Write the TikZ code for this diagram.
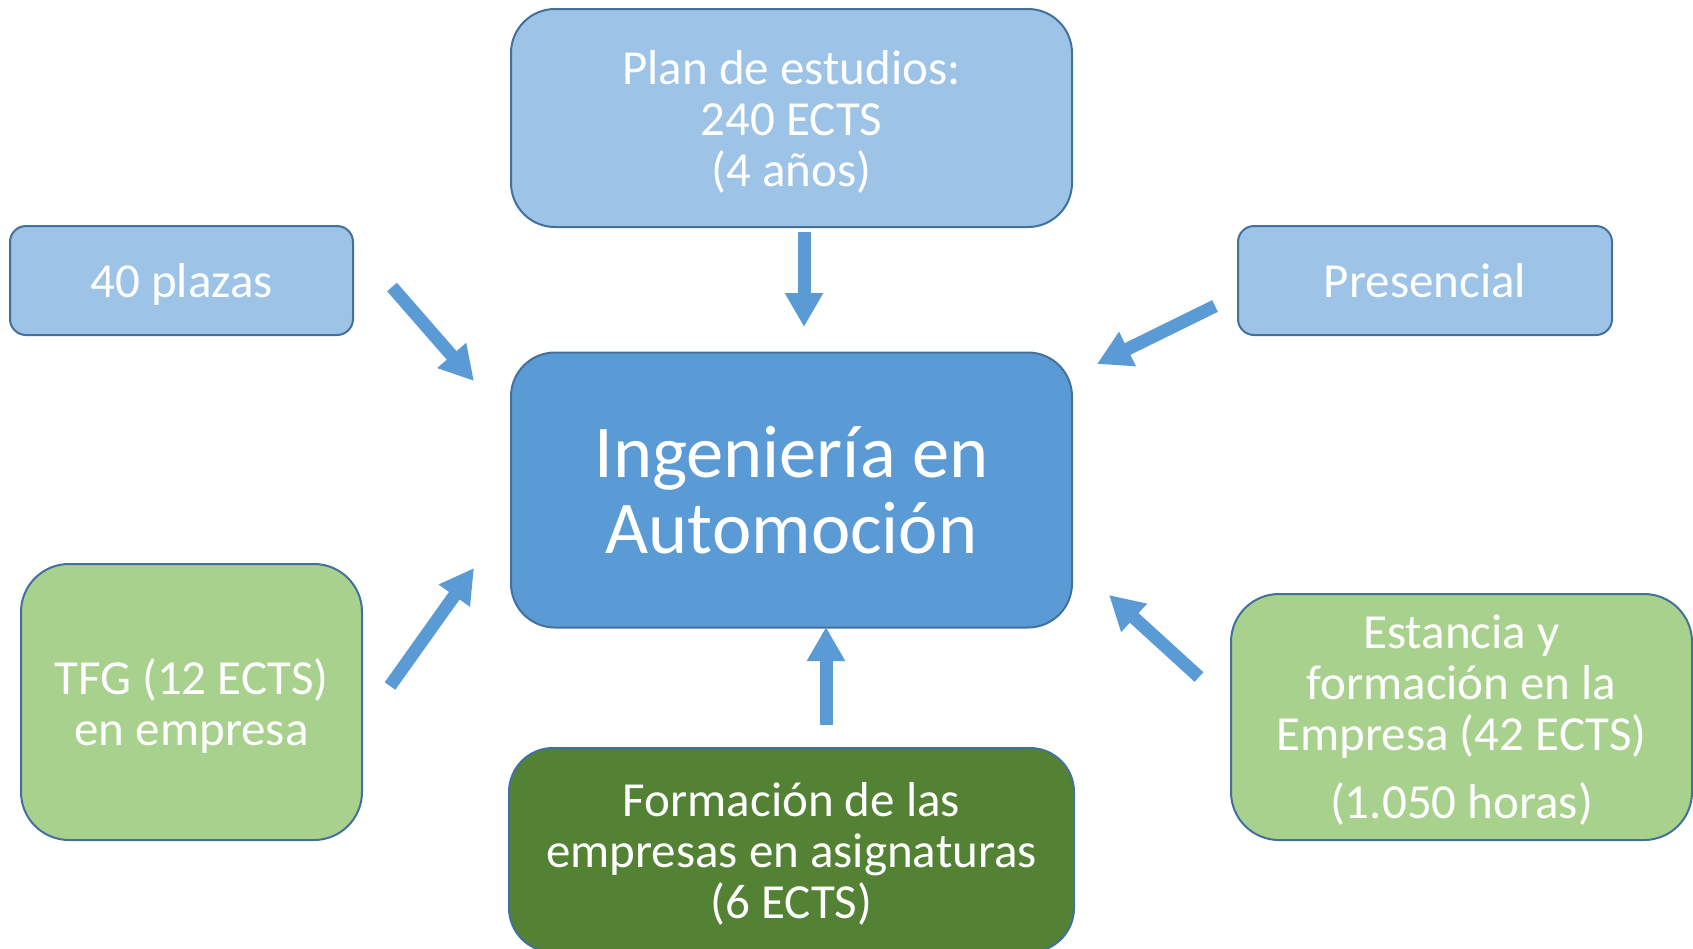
\documentclass[tikz,border=0pt]{standalone}
\usepackage{fontspec}
\setmainfont{Carlito}
\usetikzlibrary{arrows.meta}
\definecolor{lblue}{HTML}{9DC3E6}
\definecolor{mblue}{HTML}{5B9BD5}
\definecolor{bord}{HTML}{41719C}
\definecolor{lgreen}{HTML}{A9D18E}
\definecolor{dgreen}{HTML}{548235}
\tikzset{
  box/.style={draw=bord, line width=2pt, rounded corners=#1, text=white, align=center,
    inner sep=0pt, outer sep=0pt, text depth=0pt, font=\fontsize{49}{51}\selectfont},
  box/.default=44pt,
  bigarrow/.style={draw=mblue, line width=13pt, line cap=butt,
    -{Triangle[width=36pt,length=34pt]}}
}
\begin{document}
\begin{tikzpicture}[x=1pt,y=-1pt]
\useasboundingbox (0,0) rectangle (1693,948);
% boxes
\node[box, fill=lblue, minimum width=561pt, minimum height=218pt] (plan) at (791.5,118)
  {Plan de estudios:\\240 ECTS\\(4 años)};
\node[box, fill=mblue, minimum width=561pt, minimum height=275pt,
  font=\fontsize{74.5}{76}\selectfont] (main) at (791.5,490)
  {Ingeniería en\\Automoción};
\node[box=16pt, fill=lblue, minimum width=343pt, minimum height=109pt] (plazas) at (181.5,280.5)
  {40 plazas};
\node[box=16pt, fill=lblue, minimum width=374pt, minimum height=109pt] (pres) at (1425,280.5)
  {Presencial};
\node[box=48pt, fill=lgreen, minimum width=341pt, minimum height=276pt] (tfg) at (191.5,702)
  {TFG (12 ECTS)\\en empresa};
\node[box, fill=dgreen, minimum width=565pt, minimum height=204pt] (form) at (791.5,850)
  {Formación de las\\empresas en asignaturas\\(6 ECTS)};
\node[box=48pt, fill=lgreen, minimum width=461pt, minimum height=246pt] (est) at (1461.5,717)
  {Estancia y\\formación en la\\Empresa (42 ECTS)\\[17pt](1.050 horas)};
% arrow endpoints
\coordinate (a1s) at (804,232);  \coordinate (a1e) at (804,327);
\coordinate (a2s) at (392,287);  \coordinate (a2e) at (474,381);
\coordinate (a3s) at (1215,306); \coordinate (a3e) at (1097,364);
\coordinate (a4s) at (390,686);  \coordinate (a4e) at (474,568);
\coordinate (a5s) at (1199,677); \coordinate (a5e) at (1109,595);
\coordinate (a6s) at (826,725);  \coordinate (a6e) at (826,627);
\draw[bigarrow] (a1s) -- (a1e);
\draw[bigarrow] (a2s) -- (a2e);
\draw[bigarrow] (a3s) -- (a3e);
\draw[bigarrow] (a4s) -- (a4e);
\draw[bigarrow] (a5s) -- (a5e);
\draw[bigarrow] (a6s) -- (a6e);
\end{tikzpicture}
\end{document}
